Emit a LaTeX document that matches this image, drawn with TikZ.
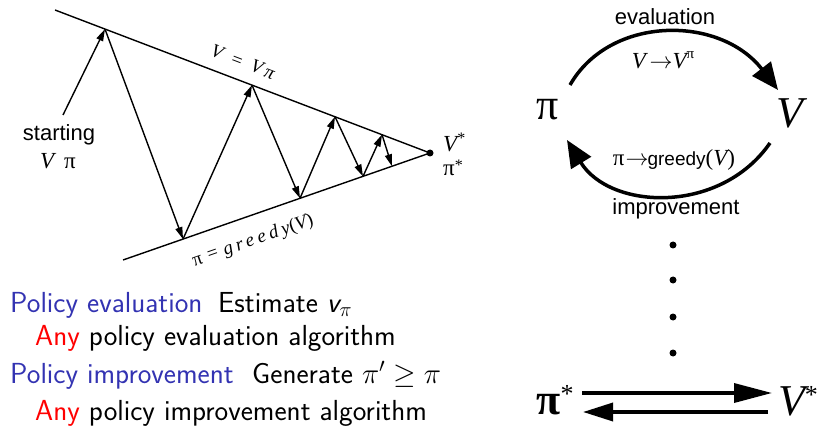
\RequirePackage{fix-cm}
\documentclass[tikz,border=0pt]{standalone}
\usepackage{fontspec}
\newfontfamily\arialf{Liberation Sans}
\newfontfamily\serif{Liberation Serif}
\usetikzlibrary{arrows.meta}
\definecolor{polblue}{rgb}{0.2,0.2,0.7}
\begin{document}
\begin{tikzpicture}[x=1pt,y=-1pt,
 thinline/.style={line width=1.4pt},
 smallarrow/.style={line width=1.4pt,-{Triangle[length=12pt,width=7pt]}},
 bigarc/.style={line width=3.5pt,-{Triangle[length=27pt,width=23pt]}},
 bigarrowA/.style={line width=3.5pt,-{Triangle[length=38pt,width=19pt]}},
 bigarrowB/.style={line width=3.5pt,-{Triangle[length=30pt,width=18pt]}},
 sanslab/.style={font=\arialf\fontsize{22}{24}\selectfont, inner sep=0pt},
 serlab/.style={font=\serif\fontsize{23}{25}\selectfont, inner sep=0pt},
 bigsym/.style={font=\serif\fontsize{44}{48}\selectfont, inner sep=0pt},
 body/.style={font=\sffamily\fontsize{29}{32}\selectfont, inner sep=0pt, anchor=base west},
 dotnode/.style={circle, fill=black, inner sep=0pt, minimum size=7pt},
]
\useasboundingbox (0,0) rectangle (826,427);

% ---------- left: convergence triangle ----------
\coordinate (T0) at (55,10);
\coordinate (B0) at (123,260);
\node[circle,fill=black,inner sep=0pt,minimum size=7pt] (apex) at (430,153) {};
\draw[thinline] (T0) -- (apex.center) -- (B0);

\coordinate (S) at (63,115);
\coordinate (P1) at (105,29.1);
\coordinate (P2) at (252,85.1);
\coordinate (P3) at (335,116.7);
\coordinate (P4) at (382,134.6);
\coordinate (Q1) at (183,239.1);
\coordinate (Q2) at (300,198.3);
\coordinate (Q3) at (363,176.4);
\coordinate (Q4) at (392,166.3);

\draw[smallarrow] (S) -- (P1);
\draw[smallarrow] (P1) -- (Q1);
\draw[smallarrow] (Q1) -- (P2);
\draw[smallarrow] (P2) -- (Q2);
\draw[smallarrow] (Q2) -- (P3);
\draw[smallarrow] (P3) -- (Q3);
\draw[smallarrow] (Q3) -- (P4);
\draw[smallarrow] (P4) -- (Q4);

\node[sanslab] (start) at (59,135) {starting};
\node[serlab] (startV) at (58,161) {\itshape V\hspace{10pt}\upshape π};

\node[serlab, anchor=west] (vstar) at (443,142) {\itshape V\raisebox{8pt}{\upshape\fontsize{16}{16}\selectfont *}};
\node[serlab, anchor=west] (pistar) at (443,168) {π\raisebox{5pt}{\fontsize{16}{16}\selectfont *}};

\node[font=\serif\itshape\fontsize{19}{20}\selectfont, inner sep=0pt, rotate=-20.9] (vlab) at (243,62) {V\hspace{9pt}=\hspace{9pt}V\,π};
\node[font=\serif\itshape\fontsize{19}{20}\selectfont, inner sep=0pt, rotate=19.2] (glab) at (253,241) {\upshape π\hspace{6pt}=\hspace{6pt}\itshape\addfontfeature{LetterSpace=20}greedy\upshape(\itshape V\upshape)};

% ---------- right: GPI cycle ----------
\node[bigsym] (pi) at (548,110) {π};
\node[bigsym] (V) at (790,113) {\itshape V};
\coordinate (e1) at (570,85);
\coordinate (e2) at (778,90);
\draw[bigarc] (e1) .. controls (610,15) and (720,15) .. (e2);
\coordinate (i1) at (770,143);
\coordinate (i2) at (567,140);
\draw[bigarc] (i1) .. controls (720,215) and (610,210) .. (i2);

\node[sanslab] (eval) at (665,17) {evaluation};
\node[serlab] (vtov) at (663,60) {\itshape V\,$\rightarrow$V\raisebox{10pt}{\upshape\fontsize{15}{15}\selectfont π}};
\node[serlab] (pgreedy) at (674,160) {\upshape π\kern1pt$\rightarrow$\kern-1pt{\arialf\fontsize{19}{20}\selectfont greedy}\upshape(\itshape V\upshape)};
\node[sanslab] (impr) at (676,209) {improvement};

\node[dotnode] (d1) at (673,245) {};
\node[dotnode] (d2) at (673,280) {};
\node[dotnode] (d3) at (673,317) {};
\node[dotnode] (d4) at (673,353) {};

\node[bigsym] (pis) at (555,400) {\bfseries π\raisebox{12pt}{\mdseries\fontsize{26}{26}\selectfont *}};
\node[bigsym] (Vs) at (798,401) {\itshape V\raisebox{12pt}{\upshape\fontsize{26}{26}\selectfont *}};
\coordinate (a1) at (582,393);
\coordinate (a2) at (772,393);
\coordinate (b1) at (768,412);
\coordinate (b2) at (583,412);
\draw[bigarrowA] (a1) -- (a2);
\draw[bigarrowB] (b1) -- (b2);

% ---------- bottom-left text ----------
\node[body, text=polblue] (pe) at (10,312) {Policy evaluation};
\node[body] (est) at (218,312) {Estimate $\textsl{v}_\pi$};
\node[body] (any1) at (35,345) {\textcolor{red}{Any} policy evaluation algorithm};
\node[body, text=polblue] (pim) at (10,383) {Policy improvement};
\node[body] (gen) at (252,383) {Generate $\pi'\geq\pi$};
\node[body] (any2) at (35,420) {\textcolor{red}{Any} policy improvement algorithm};
\end{tikzpicture}
\end{document}
